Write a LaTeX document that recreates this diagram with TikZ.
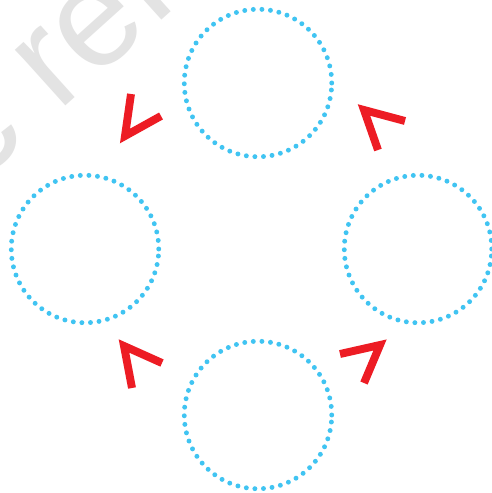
\documentclass[tikz,border=0pt]{standalone}
\usepackage{fontspec}
\setsansfont{Liberation Sans}
\definecolor{ringblue}{HTML}{40C4F2}
\definecolor{chevred}{HTML}{ED1C24}
\definecolor{markgray}{HTML}{E3E3E3}
\tikzset{
  ring/.style={circle, draw=ringblue, minimum size=2.95cm, inner sep=0pt,
    line width=2.8pt, line cap=round, dash pattern=on 0pt off 4.9pt},
  chev/.style={draw=chevred, line width=4.5pt, miter limit=10}
}
\begin{document}
\begin{tikzpicture}[x=0.02cm, y=-0.02cm]
\clip (0,0) rectangle (492,493);
\fill[white] (0,0) rectangle (492,493);
% watermark
\node[rotate=42, anchor=base west, inner sep=0pt, text=markgray,
  font=\fontsize{81}{81}\selectfont\sffamily] (mark) at (-24,187) {c ref};
% the four rings
\node[ring] (top) at (258,83) {};
\node[ring] (left) at (85,249) {};
\node[ring] (right) at (418,249) {};
\node[ring] (bottom) at (258,415) {};
% chevrons
\draw[chev] (131,94) -- (125,136) -- (161,116);
\draw[chev] (405,121) -- (364,110) -- (378,150);
\draw[chev] (162,363) -- (124,346) -- (132,388);
\draw[chev] (340,354) -- (380,345) -- (364,383);
\end{tikzpicture}
\end{document}
